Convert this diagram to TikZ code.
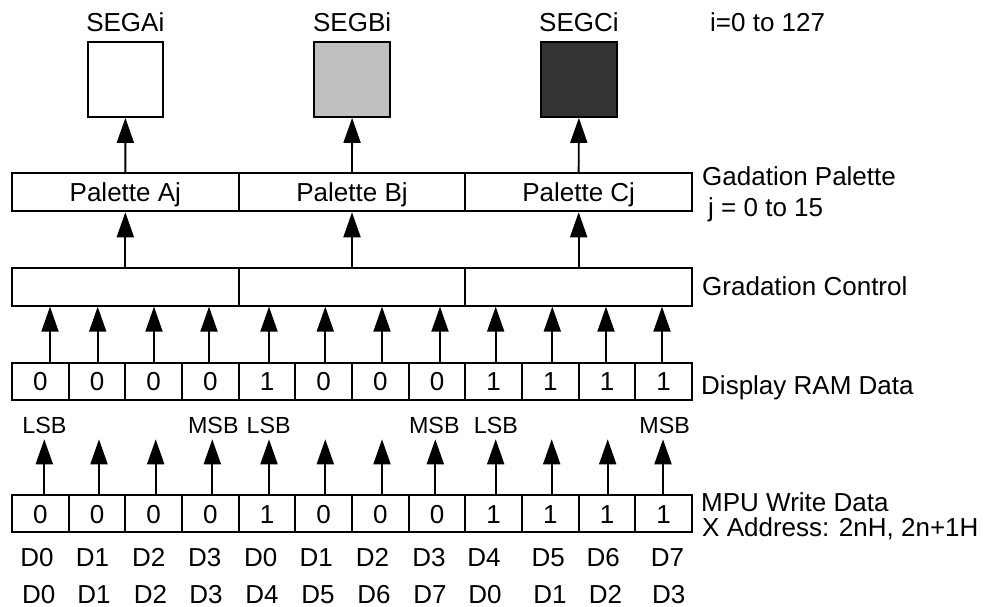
\documentclass[tikz,border=0pt]{standalone}
\usepackage{fontspec}
\setmainfont{Liberation Sans}
\usetikzlibrary{arrows.meta}
\definecolor{segb}{HTML}{C0C0C0}
\definecolor{segc}{HTML}{333333}
\begin{document}
\begin{tikzpicture}[x=1pt,y=-1pt,
  lw/.style={line width=1.9pt},
  txt/.style={font=\fontsize{26}{30}\selectfont, inner sep=0pt, text height=18.6pt, text depth=0pt},
  small/.style={font=\fontsize{23.3}{28}\selectfont, inner sep=0pt, text height=16.7pt, text depth=0pt},
  cell/.style={draw, lw, txt, minimum width=56.667pt, minimum height=37.3pt},
  wide/.style={draw, lw, txt, minimum width=226.667pt, minimum height=38pt},
  seg/.style={draw, lw, minimum width=75.7pt, minimum height=75.3pt, inner sep=0pt},
  side/.style={txt, anchor=west},
  arr/.style={lw, -{Triangle[length=25pt,width=17pt]}}]
\useasboundingbox (0,0) rectangle (990,607);
% segment boxes
\node[seg, fill=white] (s1) at (125.4,79.3) {};
\node[seg, fill=segb] (s2) at (352.1,79.3) {};
\node[seg, fill=segc] (s3) at (578.9,79.3) {};
\node[txt] (sl1) at (125.3,22.5) {SEGAi};
\node[txt] (sl2) at (352.1,22.5) {SEGBi};
\node[txt] (sl3) at (578.9,22.5) {SEGCi};
\node[side] (irange) at (710,22.5) {i=0 to 127};
% palette row
\node[wide] (p1) at (125.333,192.3) {Palette Aj};
\node[wide] (p2) at (352,192.3) {Palette Bj};
\node[wide] (p3) at (578.667,192.3) {Palette Cj};
\node[side] (gp) at (702,175.8) {Gadation Palette};
\node[side] (jr) at (708,207.5) {j = 0 to 15};
% gradation control row
\node[wide] (g1) at (125.333,286.7) {};
\node[wide] (g2) at (352,286.7) {};
\node[wide] (g3) at (578.667,286.7) {};
\node[side] (gc) at (702,285.8) {Gradation Control};
% display RAM and MPU rows
\foreach \v [count=\i] in {0,0,0,0,1,0,0,0,1,1,1,1} {
  \node[cell] (r\i) at ({12+56.667*(\i-0.5)},381.3) {\v};
  \node[cell] (m\i) at ({12+56.667*(\i-0.5)},513.7) {\v};
}
\node[side] (dr) at (701,385) {Display RAM Data};
\node[side] (mw) at (701,502) {MPU Write Data};
\node[side] (xa) at (702,526.7) {X Address: 2nH, 2n+1H};
% arrows top
\foreach \i in {1,2,3} {
  \draw[arr] (p\i.north) -- (s\i.south);
  \draw[arr] (g\i.north) -- (p\i.south);
}
% arrows RAM -> gradation
\foreach \i/\ax in {1/50,2/97.7,3/154,4/209,5/269,6/325.3,7/382,8/440,9/495.7,10/552.3,11/606,12/662} {
  \pgfmathtruncatemacro\gi{int((\i-1)/4)+1}
  \coordinate (ua\i) at (\ax,0);
  \draw[arr] (r\i.north -| ua\i) -- (g\gi.south -| ua\i);
}
% arrows from MPU data
\foreach \i/\bx in {1/44.3,2/99,3/155.7,4/212.3,5/269,6/325.3,7/382,8/435.3,9/495.7,10/551.7,11/607.7,12/663} {
  \coordinate (t\i) at (\bx,439.3);
  \draw[arr] (m\i.north -| t\i) -- (t\i);
}
% LSB / MSB
\node[small] (lsb1) at (44.5,425) {LSB};
\node[small] (msb1) at (213.3,425) {MSB};
\node[small] (lsb2) at (268.7,425) {LSB};
\node[small] (msb2) at (434.3,425) {MSB};
\node[small] (lsb3) at (496,425) {LSB};
\node[small] (msb3) at (664.7,425) {MSB};
% bit labels
\foreach \t/\x [count=\i] in {D0/37,D1/92.5,D2/148.7,D3/204.7,D0/260.8,D1/316.3,D2/372.5,D3/429,D4/484,D5/548.2,D6/603.3,D7/667.5} {
  \node[txt] (da\i) at (\x,556.7) {\t};
}
\foreach \t/\x [count=\i] in {D0/38.8,D1/94,D2/150.5,D3/206,D4/262,D5/318,D6/374,D7/430,D0/485,D1/550,D2/605.5,D3/668.8} {
  \node[txt] (db\i) at (\x,594.2) {\t};
}
\end{tikzpicture}
\end{document}
